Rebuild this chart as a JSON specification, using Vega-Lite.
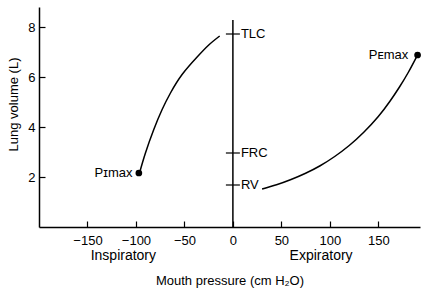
{
  "$schema": "https://vega.github.io/schema/vega-lite/v6.json",
  "width": 381,
  "height": 220,
  "autosize": "none",
  "padding": {"left": 39, "top": 7, "right": 8, "bottom": 65},
  "background": "white",
  "config": {
    "view": {"stroke": null},
    "font": "Liberation Sans",
    "axis": {"domainColor": "black", "tickColor": "black", "labelColor": "black", "titleColor": "black", "labelFont": "Liberation Sans", "titleFont": "Liberation Sans", "labelFontSize": 13, "titleFontSize": 13, "titleFontWeight": "normal", "grid": false, "domainWidth": 1.5, "tickWidth": 1.2}
  },
  "datasets": {
    "insp": [
      {"p": -96.4, "v": 2.15}, {"p": -90.2, "v": 2.96}, {"p": -81.6, "v": 3.9}, {"p": -73, "v": 4.7},
      {"p": -64.4, "v": 5.36}, {"p": -52.4, "v": 6.1}, {"p": -36.9, "v": 6.8}, {"p": -24.9, "v": 7.28}, {"p": -13.6, "v": 7.64}
    ],
    "exp": [
      {"p": 30.1, "v": 1.52}, {"p": 45, "v": 1.69}, {"p": 60, "v": 1.9}, {"p": 75, "v": 2.15}, {"p": 90, "v": 2.45},
      {"p": 105, "v": 2.82}, {"p": 120, "v": 3.26}, {"p": 135, "v": 3.79}, {"p": 150, "v": 4.42}, {"p": 162, "v": 5.03},
      {"p": 172, "v": 5.61}, {"p": 181, "v": 6.19}, {"p": 189.9, "v": 6.84}
    ],
    "pts": [
      {"p": -97, "v": 2.16, "label": "Pɪmax", "lp": -103.6},
      {"p": 190.5, "v": 6.88, "label": "Pᴇmax", "lp": 181}
    ],
    "levels": [
      {"name": "TLC", "p": 0, "v": 7.72},
      {"name": "FRC", "p": 0, "v": 2.96},
      {"name": "RV", "p": 0, "v": 1.68}
    ],
    "zero": [{"p": 0, "v0": 0, "v1": 8.28}],
    "sides": [
      {"p": -113, "v": -1.16, "name": "Inspiratory"},
      {"p": 91, "v": -1.16, "name": "Expiratory"}
    ]
  },
  "encoding": {
    "x": {"field": "p", "type": "quantitative", "scale": {"domain": [-200, 193], "nice": false, "zero": false},
      "axis": {"values": [-150, -100, -50, 0, 50, 100, 150], "tickSize": -6, "labelPadding": 13, "title": "Mouth pressure (cm H₂O)", "titlePadding": 27, "labelFlush": false}},
    "y": {"field": "v", "type": "quantitative", "scale": {"domain": [0, 8.8], "nice": false},
      "axis": {"values": [2, 4, 6, 8], "tickSize": -6, "labelPadding": 10, "title": "Lung volume (L)", "titleX": -19, "titleY": 97, "labelFlush": false}}
  },
  "layer": [
    {"data": {"name": "insp"}, "mark": {"type": "line", "color": "black", "strokeWidth": 1.5, "interpolate": "natural"}},
    {"data": {"name": "exp"}, "mark": {"type": "line", "color": "black", "strokeWidth": 1.5, "interpolate": "natural"}},
    {"data": {"name": "pts"}, "mark": {"type": "point", "filled": true, "color": "black", "size": 45, "opacity": 1}},
    {"data": {"name": "pts"}, "mark": {"type": "text", "align": "right", "baseline": "middle", "fontSize": 13, "color": "black"},
      "encoding": {"x": {"field": "lp", "type": "quantitative"}, "text": {"field": "label"}}},
    {"data": {"name": "zero"}, "mark": {"type": "rule", "color": "black", "strokeWidth": 1.5},
      "encoding": {"y": {"field": "v0", "type": "quantitative"}, "y2": {"field": "v1"}}},
    {"data": {"name": "levels"}, "mark": {"type": "tick", "orient": "horizontal", "color": "black", "size": 14, "thickness": 1.2, "opacity": 1}},
    {"data": {"name": "levels"}, "mark": {"type": "text", "align": "left", "baseline": "middle", "fontSize": 13, "color": "black", "dx": 8},
      "encoding": {"text": {"field": "name"}}},
    {"data": {"name": "sides"}, "mark": {"type": "text", "align": "center", "baseline": "middle", "fontSize": 14, "color": "black"},
      "encoding": {"text": {"field": "name"}}}
  ]
}
